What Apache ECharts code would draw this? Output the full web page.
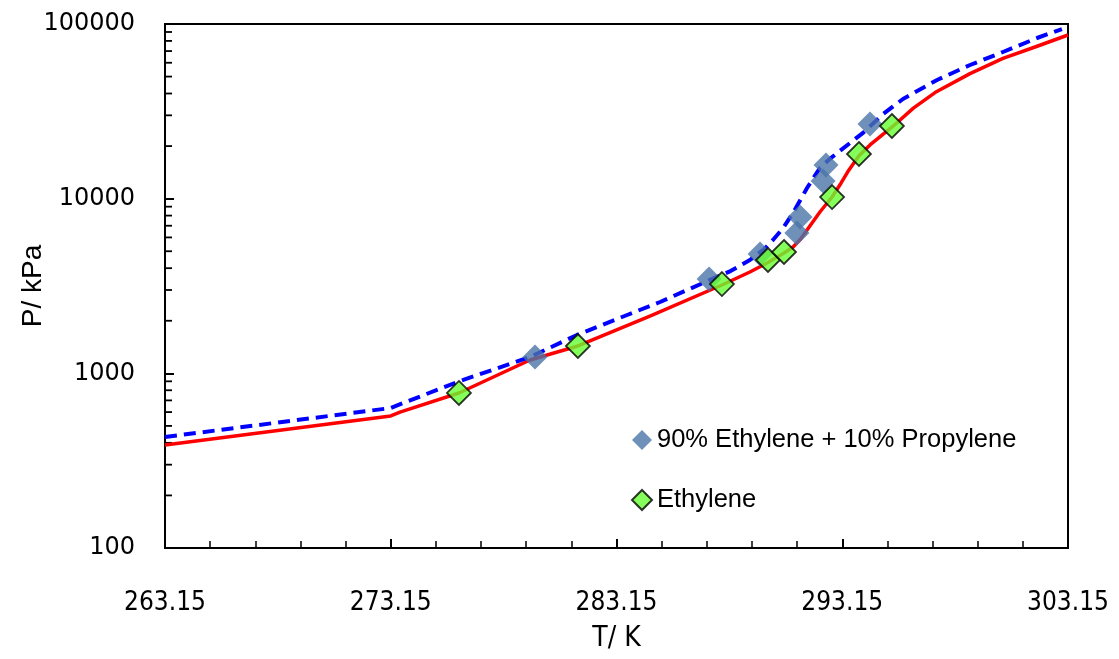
<!DOCTYPE html>
<html>
<head>
<meta charset="utf-8">
<script src="https://cdn.jsdelivr.net/npm/echarts@6/dist/echarts.min.js"></script>
<style>
  html, body { margin: 0; padding: 0; background: #fff; }
  #chart { width: 1119px; height: 659px; }
</style>
</head>
<body>
<div id="chart"></div>
<script>
// Hydrate equilibrium data: temperature (K) vs pressure (kPa)
const mixT = [279.54, 287.25, 289.51, 291.14, 291.28, 292.30, 292.43, 294.38];
const mixP = [1240, 3467, 4822, 6360, 7850, 12620, 15590, 26750];

const ethT = [276.17, 281.44, 287.82, 289.86, 290.57, 292.70, 293.89, 295.35];
const ethP = [772, 1434, 3246, 4455, 4950, 10220, 18020, 26060];

// Model curve: 90% ethylene + 10% propylene (dashed)
const mixCurveT = [263.15, 273.15, 273.60, 276.22, 279.32, 281.40, 283.62, 285.08, 286.98, 288.20, 289.06, 289.70, 290.08, 290.53, 290.97, 291.59, 292.16, 292.60, 293.05, 294.07, 294.96, 295.84, 297.35, 298.81, 300.27, 301.78, 302.88];
const mixCurveP = [432, 633, 668, 904, 1240, 1658, 2158, 2561, 3290, 3850, 4455, 5150, 5799, 6792, 8279, 11510, 14980, 16900, 18800, 23800, 30500, 37200, 47800, 58250, 69140, 83150, 93600];

// Model curve: pure ethylene (solid)
const ethCurveT = [263.15, 273.15, 273.56, 276.17, 279.32, 281.44, 284.63, 287.82, 289.06, 289.82, 290.57, 290.97, 291.30, 291.59, 292.16, 292.70, 293.10, 293.40, 293.89, 294.38, 295.40, 296.30, 297.26, 298.81, 300.27, 301.69, 303.15];
const ethCurveP = [389, 570, 600, 772, 1192, 1434, 2129, 3204, 3803, 4282, 4885, 5288, 5850, 6616, 8388, 10220, 12300, 14300, 17600, 20300, 26000, 33000, 40500, 52000, 63500, 73850, 86500];

// Axis settings
const xMin = 263.15, xMax = 303.15, xStep = 10;
const yMin = 100, yMax = 100000;
const yMinorTicks = [200, 300, 400, 500, 600, 700, 800, 900,
                     2000, 3000, 4000, 5000, 6000, 7000, 8000, 9000,
                     20000, 30000, 40000, 50000, 60000, 70000, 80000, 90000];

const mixName = '90% Ethylene + 10% Propylene';
const ethName = 'Ethylene';

const zip = (a, b) => a.map((v, i) => [v, b[i]]);

const chart = echarts.init(document.getElementById('chart'), null, { renderer: 'canvas' });

chart.setOption({
  animation: false,
  backgroundColor: '#ffffff',
  grid: {
    left: 165, right: 51, top: 24, bottom: 111,
    outerBoundsMode: 'none',
    containLabel: false,
    show: true, borderColor: '#000', borderWidth: 2, backgroundColor: 'transparent'
  },
  legend: {
    data: [mixName, ethName],
    orient: 'vertical',
    left: 631, top: 427,
    padding: 0,
    itemWidth: 20, itemHeight: 20, itemGap: 34,
    textStyle: { fontFamily: 'Liberation Sans', fontSize: 25.5, lineHeight: 22, color: '#000' }
  },
  xAxis: {
    type: 'value',
    min: xMin, max: xMax, interval: xStep,
    name: 'T/ K',
    nameLocation: 'middle',
    nameGap: 77,
    nameMoveOverlap: false,
    nameTextStyle: { fontFamily: 'DejaVu Sans Condensed, Liberation Sans', fontSize: 28, color: '#000' },
    axisLine: { lineStyle: { color: '#000', width: 2 } },
    axisTick: { inside: true, length: 9, lineStyle: { color: '#000', width: 2 } },
    minorTick: { show: true, splitNumber: 5, length: 7, lineStyle: { color: '#000', width: 1.5 } },
    axisLabel: {
      margin: 42,
      fontFamily: 'DejaVu Sans Condensed, Liberation Sans', fontSize: 26, color: '#000',
      formatter: v => v.toFixed(2)
    },
    splitLine: { show: false }
  },
  yAxis: {
    type: 'log', logBase: 10,
    min: yMin, max: yMax,
    name: 'P/ kPa',
    nameLocation: 'middle',
    nameGap: 118,
    nameMoveOverlap: false,
    nameTextStyle: { fontFamily: 'Liberation Sans', fontSize: 28, color: '#000' },
    axisLine: { lineStyle: { color: '#000', width: 2 } },
    axisTick: { inside: true, length: 9, lineStyle: { color: '#000', width: 2 } },
    axisLabel: {
      margin: 30,
      fontFamily: 'DejaVu Sans', fontSize: 24, color: '#000',
      formatter: v => String(Math.round(v))
    },
    splitLine: { show: false }
  },
  series: [
    {
      name: 'yMinorTicks',
      type: 'custom',
      silent: true,
      data: yMinorTicks.map(v => [xMin, v]),
      renderItem: (params, api) => {
        const p = api.coord([api.value(0), api.value(1)]);
        return {
          type: 'line',
          shape: { x1: p[0], y1: p[1], x2: p[0] + 7, y2: p[1] },
          style: { stroke: '#000', lineWidth: 1.8 }
        };
      },
      z: 1
    },
    {
      name: 'Ethylene model',
      type: 'line',
      data: zip(ethCurveT, ethCurveP),
      symbol: 'none',
      smooth: false,
      lineStyle: { color: '#ff0000', width: 3.5, join: 'round' },
      z: 2
    },
    {
      name: 'Mixture model',
      type: 'line',
      data: zip(mixCurveT, mixCurveP),
      symbol: 'none',
      smooth: false,
      lineStyle: { color: '#0000ff', width: 4, type: [12, 7], join: 'round' },
      z: 3
    },
    {
      name: mixName,
      type: 'scatter',
      data: zip(mixT, mixP),
      symbol: 'diamond',
      symbolSize: 25,
      itemStyle: { color: '#4a74a8' },
      z: 4
    },
    {
      name: ethName,
      type: 'scatter',
      data: zip(ethT, ethP),
      symbol: 'diamond',
      symbolSize: 24,
      itemStyle: { color: '#66ff33', borderColor: '#000', borderWidth: 1.8 },
      z: 5
    }
  ]
});
</script>
</body>
</html>
